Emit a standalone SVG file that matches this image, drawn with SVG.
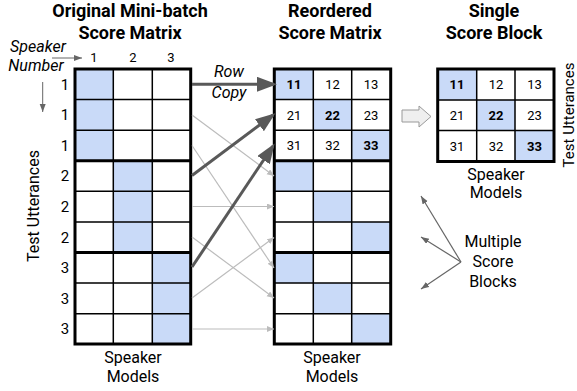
<svg xmlns="http://www.w3.org/2000/svg" width="577" height="391" viewBox="0 0 577 391">
<style>
text{font-family:Roboto,"Liberation Sans",sans-serif;fill:#000}
.title{font-size:18px;font-weight:bold;text-anchor:middle}
.lbl{font-size:16px;text-anchor:middle}
.it{font-style:italic}
.num{font-size:15px;text-anchor:middle}
.col{font-size:13px;text-anchor:middle}
.cell{font-size:13px;text-anchor:middle}
.b{font-weight:bold}
.blue{fill:#c9daf8}
.thin{stroke:#000;stroke-width:1.5;fill:none}
.thick{stroke:#000;stroke-width:3;fill:none}
.frame{stroke:#000;stroke-width:3;fill:none}
.big{stroke:#595959;stroke-width:3;fill:none;marker-end:url(#hb)}
.lite{stroke:#bcbcbc;stroke-width:1.2;fill:none;marker-end:url(#hl)}
.pt{stroke:#666;stroke-width:1.2;fill:none;marker-end:url(#hp)}
</style>
<defs>
<marker id="hb" markerUnits="userSpaceOnUse" markerWidth="22" markerHeight="16" refX="17" refY="7.5" orient="auto"><path d="M0,0 L20,7.5 L0,15 z" fill="#595959"/></marker>
<marker id="hl" markerUnits="userSpaceOnUse" markerWidth="8" markerHeight="8" refX="7" refY="3" orient="auto"><path d="M0,0 L7,3 L0,6 z" fill="#bcbcbc"/></marker>
<marker id="hp" markerUnits="userSpaceOnUse" markerWidth="9" markerHeight="8" refX="8" refY="3" orient="auto"><path d="M0,0 L8,3 L0,6 z" fill="#666"/></marker>
</defs>

<g id="titles">
<text class="title" x="130" y="17">Original Mini-batch</text>
<text class="title" x="130" y="38.5">Score Matrix</text>
<text class="title" x="330" y="17">Reordered</text>
<text class="title" x="330" y="38.5">Score Matrix</text>
<text class="title" x="494" y="17">Single</text>
<text class="title" x="494" y="38.5">Score Block</text>
</g>

<g id="speaker-number">
<text class="lbl it" x="38" y="52">Speaker</text>
<text class="lbl it" x="36" y="71">Number</text>
<text class="col" x="94" y="62">1</text>
<text class="col" x="133" y="62">2</text>
<text class="col" x="171" y="62">3</text>
</g>

<g id="left-matrix">
<rect class="blue" x="75" y="69" width="38.3" height="91.8"/>
<rect class="blue" x="113.3" y="160.8" width="39" height="91.7"/>
<rect class="blue" x="152.3" y="252.5" width="38.5" height="91.5"/>
<path class="thin" d="M113.3,69V344M152.3,69V344M75,99.6H191M75,130.2H191M75,191.3H191M75,222H191M75,283H191M75,313.7H191"/>
<path class="thick" d="M75,160.8H191M75,252.5H191"/>
<rect class="frame" x="75" y="69" width="115.7" height="275"/>
<text class="num" x="65" y="89.5">1</text>
<text class="num" x="65" y="120">1</text>
<text class="num" x="65" y="150.5">1</text>
<text class="num" x="65" y="181">2</text>
<text class="num" x="65" y="212">2</text>
<text class="num" x="65" y="242.5">2</text>
<text class="num" x="65" y="273">3</text>
<text class="num" x="65" y="303.5">3</text>
<text class="num" x="65" y="334">3</text>
<text class="lbl" x="133" y="363">Speaker</text>
<text class="lbl" x="133" y="382">Models</text>
<text class="lbl" transform="translate(39,206) rotate(-90)">Test Utterances</text>
</g>

<g id="middle-matrix">
<rect class="blue" x="274.3" y="69" width="39" height="30.6"/>
<rect class="blue" x="313.3" y="99.6" width="38.4" height="30.6"/>
<rect class="blue" x="351.7" y="130.2" width="39" height="30.6"/>
<rect class="blue" x="274.3" y="160.8" width="39" height="30.5"/>
<rect class="blue" x="313.3" y="191.3" width="38.4" height="30.7"/>
<rect class="blue" x="351.7" y="222" width="39" height="30.5"/>
<rect class="blue" x="274.3" y="252.5" width="39" height="30.5"/>
<rect class="blue" x="313.3" y="283" width="38.4" height="30.7"/>
<rect class="blue" x="351.7" y="313.7" width="39" height="30.3"/>
<path class="thin" d="M313.3,69V344M351.7,69V344M274.3,99.6H390.7M274.3,130.2H390.7M274.3,191.3H390.7M274.3,222H390.7M274.3,283H390.7M274.3,313.7H390.7"/>
<path class="thick" d="M274.3,160.8H390.7M274.3,252.5H390.7"/>
<rect class="frame" x="274.3" y="69" width="116.4" height="275"/>
<text class="cell b" x="294" y="89">11</text>
<text class="cell" x="332.5" y="89">12</text>
<text class="cell" x="371" y="89">13</text>
<text class="cell" x="294" y="119.5">21</text>
<text class="cell b" x="332.5" y="119.5">22</text>
<text class="cell" x="371" y="119.5">23</text>
<text class="cell" x="294" y="150">31</text>
<text class="cell" x="332.5" y="150">32</text>
<text class="cell b" x="371" y="150">33</text>
<text class="lbl" x="332" y="363">Speaker</text>
<text class="lbl" x="332" y="382">Models</text>
</g>

<g id="single-block">
<rect class="blue" x="437.7" y="69" width="39" height="31"/>
<rect class="blue" x="476.7" y="100" width="38.3" height="30.5"/>
<rect class="blue" x="515" y="130.5" width="39" height="31"/>
<path class="thin" d="M476.7,69V161.5M515,69V161.5M437.7,100H554M437.7,130.5H554"/>
<rect class="frame" x="437.7" y="69" width="116.3" height="92.5"/>
<text class="cell b" x="457" y="89">11</text>
<text class="cell" x="496" y="89">12</text>
<text class="cell" x="534.5" y="89">13</text>
<text class="cell" x="457" y="120">21</text>
<text class="cell b" x="496" y="120">22</text>
<text class="cell" x="534.5" y="120">23</text>
<text class="cell" x="457" y="150.5">31</text>
<text class="cell" x="496" y="150.5">32</text>
<text class="cell b" x="534.5" y="150.5">33</text>
<text class="lbl" x="496" y="180">Speaker</text>
<text class="lbl" x="496" y="198">Models</text>
<text class="lbl" transform="translate(574,115) rotate(-90)" style="font-size:15px">Test Utterances</text>
</g>

<g id="multiple-label">
<text class="lbl" x="493" y="247">Multiple</text>
<text class="lbl" x="493" y="267">Score</text>
<text class="lbl" x="493" y="287">Blocks</text>
</g>

<g id="row-copy-label">
<text class="lbl it" x="229" y="77">Row</text>
<text class="lbl it" x="229" y="98">Copy</text>
</g>

<g id="connectors">
<path d="M52,58H82" stroke="#666" stroke-width="1" fill="none" marker-end="url(#hp)"/>
<path d="M42.7,82V112" stroke="#666" stroke-width="1" fill="none" marker-end="url(#hp)"/>
<path class="lite" d="M192,115L274,176"/>
<path class="lite" d="M192,206.5L274,206.5"/>
<path class="lite" d="M192,298L274,237.5"/>
<path class="lite" d="M192,145.5L274,268"/>
<path class="lite" d="M192,237L274,298"/>
<path class="lite" d="M192,329L274,329"/>
<path class="big" d="M192,84.3L274,84.3"/>
<path class="big" d="M192,175.5L273,115"/>
<path class="big" d="M192,267L273,146"/>
<path d="M402,110H419V106L431,116.5L419,127V122H402z" fill="#efefef" stroke="#999" stroke-width="1"/>
<path class="pt" d="M461,262L421,196"/>
<path class="pt" d="M461,262L421,237"/>
<path class="pt" d="M461,262L421,289"/>
</g>
</svg>
